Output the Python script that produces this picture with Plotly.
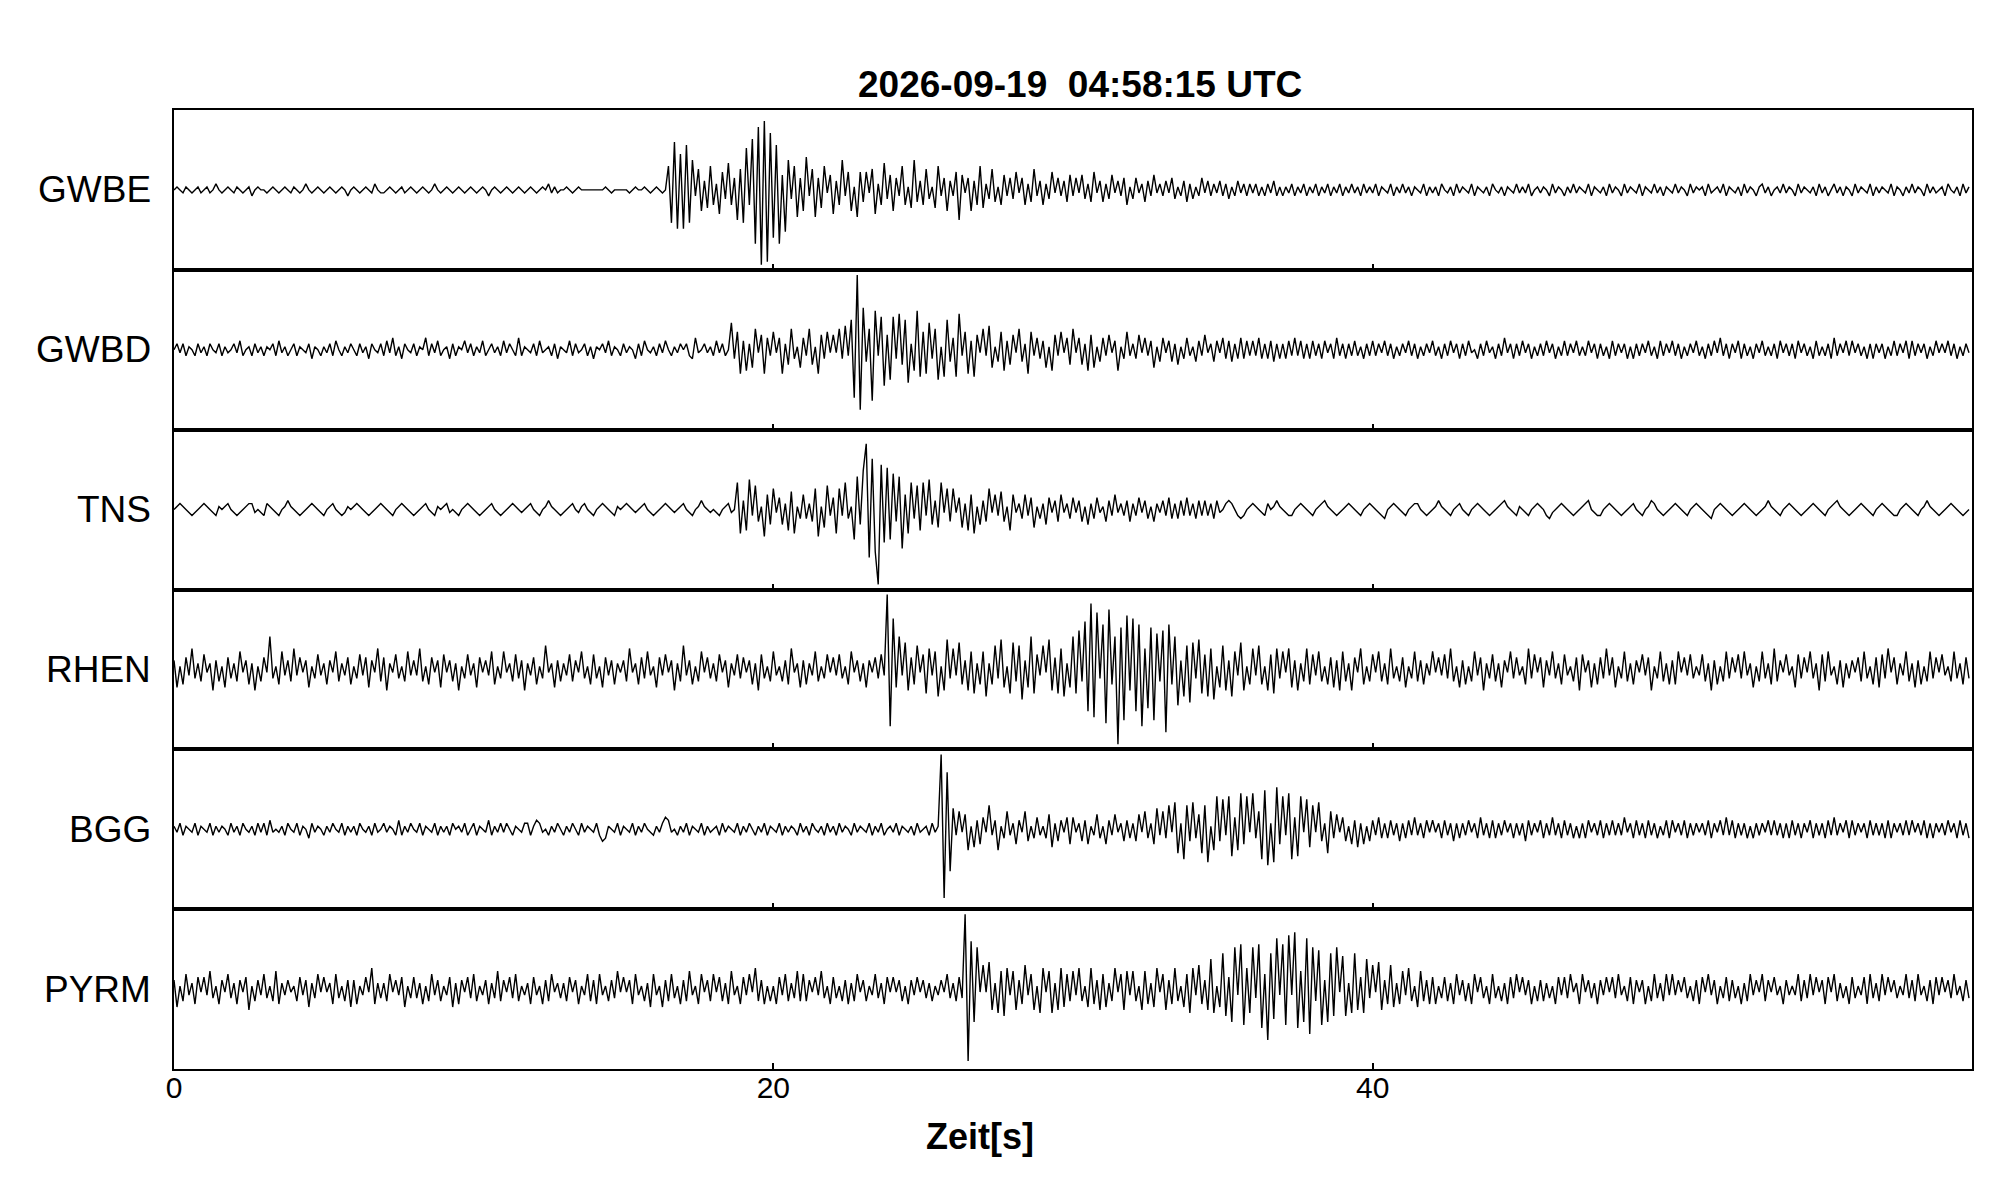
import numpy as np
import plotly.graph_objects as go
from plotly.subplots import make_subplots

# ---------------- data ----------------
stations = ["GWBE", "GWBD", "TNS", "RHEN", "BGG", "PYRM"]
title_text = "2026-09-19  04:58:15 UTC"
x_label = "Zeit[s]"
x_tick_values = [0, 20, 40]
x_tick_labels = ["0", "20", "40"]
x_range = [0, 60]
y_half_range = 26.7  # amplitude units (1 unit ~ 3 px)

# Each word = one second of samples; letter = amplitude (A=+1 .. Z=+26, a=-1 .. z=-26, 0 = 0)
GWBE = """
0A0aA0a0Aa 0Aa0B0a0A0 aA0a0Ab0A0 0a0A0a0A0a A0a0B0a0A0 a0A0a0A0b0 A0a0A0aB0a a0A0a0Aa0A
0a0A0a0B0a 0A0a0A0a0A 0a0A0b0A0a 0A0a0A0a0A 0a0A0BaAa0 0A0a0A0000 0000A0a000 00a0A00A0a
0A0a0HkPmL mOkJbGgCfH eBhFcIeDjG kNeQrUyWxS pOrEnJcHiD gKbGiDfHaE hCeJbFgAiF dFaGhBeIcE
gDbHeAfJdC eGcAfHbDgC bFjEaDgCeH fBcGdAeEbD cFaDeBdGbC eBcFaDbCdE bDaEcBdFaC dBcEaCbDeA
cDaBdCbEaB bCaDcAbCdB cAbDaCbBaC bBcAbCaBbB aBbAbBaCbA bAaBbAaBbA aBbAaBbAaB bAaBaAbBaA
aBbA0aBbAa BaAbA0aBbA aAbB0aAbBa A0aBbA0aAb B0aAbA0aBa AaBb0AaA0b BaA0bAaBaA 0aBbA0aAbB
aA0bBaA0aB bA0aBaAbA0 aBaA0bBaA0 AbBa0AaBbA 0aAbBaA0bA BaAb0AaBaA 0bBaA0aAbB aAb0BaAbA0
bBaA0aBbAa A0aBbA0bAa BaA0bBaAa0 AbB0aAbBaA
"""

GWBD = """
0BaBbA0bBa AbB0aBbAa0 BaCb0AbBaA bA0BbCaAb0 BbA0aBcA0b AaBbC0bAaB 0bBaAcB0aB bCaDbAcB0a
BbA0DbBaCb 0AcBbA0CaB bAaCb0BaAb CaB0bDbA0a BbCa0AbBcA 0aCbBa0BbA cA0BaCbA0b BaA0cBbC0a
AbBaC0bAaB 0BbcDa0BaA bCaBb0IcFh CgBfGaEhDb FaDhBeGcAf DbGeAhEcFa EaGcHbJpYt NdGqMbKlEj
KcLeJkBgMi FhIcGjAiJd DiLbFhCiEa GbHfAdFgCe EaGdBhFbDc CfAgEbFaDe GaDeBgEfAd DbEaCgAcFb
BcEaDbCfAd DaCdBeAcDb AdCbEaBdCa DcCdBcDcCb CbDcBcCdBc BcCbDbCcBc CbBcCaBcDb BcBbCbAcBb
CbBaCbBcAb BaCbBcAbBa CbAcBbCaBc BbCa0cBbCa AcBbDaBcBb CaBcAbBbCa BcAbCbBaCb AbCaBcBbAc
CbBaBcAcBb BaCbAcCbBa CbBcAbBaCb AcBbCaDbBc BaCcBbAcBa CbAbBcCaBb BcCaBbAcCb AbBcDbBaCb
CaBbAcBcBa BcAbCbBaCc CbBaBcAbCa BaCbBcAbBa
"""

TNS = """
0ABA0aba0A BA0abA0AB0 aba0ABBa0a bBA0ab0ACA 0aba0ABA0a b0AB0abaA0 ABA0aba0AB A0ab0ABA0a
ba0AB0abA0 ABa0ab0ABA 0aba0AB0ab a0ABA0a0AB 0ab0ACA0ab a0AB0aAB0a b0ABA0abA0 ABA0a0AB0a
ba0ABA0a0A B0ab0ACA0a 0ab0ABa0Ih CgJbHdAiEe GaDeBgFhAc EcBdGiAfHb DhGbIcAjKe MVpQnyOkNj
LdKmEhIcHg IbJeCfIaGd GaDfBgEhAe CdGaEbFdAg EaBcEbDfAc BeDaCdEaBc DaCdAeBcDa AdCbEaBbCd
BbDaCcAdBa CbDcBcCbDb BcCbCbBcCa 0BCB0bcb0A BA0abB0ACA 0abb0ABA0a b0ABCA0aba 0ABA0ab0AB
A0abc0ABA0 ab0ABB0aba 0ACA0ab0AB 0ab0ABA0ab a0ABCA0abA 0ab0ABA0bc a0ABA0aba0 ABC0abb0AB
A0aba0AB0a b0ACB0aba0 ABA0ab0ABA 0abc0ABA0a ba0ABA0aba 0ACA0ab0AB A0aba0ABA0 ab0ABCA0ab
a0ABA0ab0A BA0abb0ABA 0ab0ACA0ab a0ABA0aba0
"""

RHEN = """
CfAeDbGcBd EaBgCdAfDc BdFaCeBgAd DaKcAeFbCd GbDaCfAcEb BeCaFdBbDe AcEbDfCaGd DgBaEcAdFb
CbGdAeDaCf EaCdBgAcEb BfDaCbFeAc FaBdEcCgBb DeAcHaBfCd BbEdCaFcAe EcAfDbCeBa CdGaBeDcFb
AfDbEaCgBd HbCeAdFaDc BdEaCfBbEc DaCeBgEcAd FbAdCeGaBf CeBbFdAcEa DbEcAeFaCd BfCaDcEbYs
QfKbIgDeHa EhGbFiAgJc GbIeCgFhBe FiBeHcJfAh IdHjCfKhEb HaJgDhGiBf KhMdPnVpSc OrTeKyNqRg
QnOsGmNqLd MuOeKlCiHk IcJhEiGjAf HgCiFbIgAe GbHeAgEhGc FaGfCgBdGe EbFdAeDfCg FdBgDaGeAd
EaFdBeGcAd DfAcFdCeBb FaDbEcGdAf CeAdFbDgBc EdBfCaFcDb AeGcEaDfCb FcBeEbAdDg EaCfBeDcGb
DfAcFdBeCa EbDgAcFdBe CeFaDbEcAb EdBgCeAdFc DaEcFbBfAd FcBeGdCaEb AfEcDaFcBg EdFbAeCfBc
CaDdFcAeDf EcGaDeBbFd BfCeAdFcDa EbAdFcBeDc
"""

BGG = """
AaBbA0aBbA 0aBbAaA0bB aAbB0aAbBa BbCa0aAbB0 aBbA0cBaA0 bAaB0aBbAa AbB0aAbBa0 BaA0bCbAaB
0aBbA0aBbA aAbB0AaBb0 BbA0aCbAaB aB0bA0aBBb ACBa0bAaB0 bAaB0bBaA0 aBbdcA0aBb A0aBbAaB0a
bAaBDCa0bA aBbA0aBbAa 0AbBaA0aBb AaB0bAaBbA 0aBbAaA0bB aAbB0aAbBa AbBaA0bBaA 0aBbAaBb0A
aBbA0aAbBa 0AbBaAYwSn GbFaEgAfCe DaHbCgAcFb BeCaFdAcDb AcEfBdCaDe DaBdCeAbEc AeCbEaBdCc
BdEaFcBeGb FcHaIhBjHd IcEhHkAgKd JbKiDgLeKa LcFjMlBkNe KbLjDiKaJf HaIdBhFcEa DdAeCfBeAd
CbDcBcCbBd BcCbDbBcCa CaBcCbBdBc BbCaBcDbBc CcBbCaBcBb BdCbBaCcBb DbBcCbBcAc BcCaBbCcBb
CbBbDaBcCb BcCbBcAbCc CaBbCcBbBa BbCcBaCbDb CcBbBcAcBb BaCbCbBcBc CbBcBaCcBb BcCbDbBaCc
CbBaBcCbBb BcCcBaBbCb CaBbCcBcBa BbCaBcCbBc
"""

PYRM = """
CfAdEbBeDa DbFcAeCaEc BeCaDgAdCb EcAdFeBbCa AdDbCfBcEa DaBeEcAdCf CeAbDaGeBc BdEaCbDfAc
DcBeAdEbCd AbDfBeCaDc EdAbCeBcFd CaDcEdAbBe DbAeCdEaBc BdDaCeAbEd CeEbAdCcFa DaCeEbAdBf
EbAfCdEcAe CdFbAeEaCd EaDdBeFbAe DbEaGdCeAd AeDbEdBcFd EdCaDbFcAe DcAdCeBdEa CdAbEcBeDa
DaCdAeCbDa CcBdAbCaEc BdDcYxPkNa HaIgBhFiGb FgCeHbEgAh GaFhBgGfEd FbGdAfGeCg EfBdGaEgFb
FdAgFeBfGa EgCeGdAfEh GbHeCgJhAf LiDkNbOlGh NcOmEqLjQb OlRbSmFkQo NdMlCkLiNa KiBhLgDhJc
HaIgCeHfBe FbGdAfFdCe DeAcDdBeEb CdBeEaDcAe EcAdBeDcEa DbCeAdCdBc AeDbDcEaBe EaCcBeCbDa
DcEbAdDeCa CeAdEcBdEb EbCaDcAdCe DaEbCeAcDd CcAeBdEbCa EdCaDbAeCb AbEdCcEbDa CeDaEdBcAe
DcAbDeEcBd EbDaCcAbEc CdEbAdCeDb DaCcEbAdCc
"""

traces = [GWBE, GWBD, TNS, RHEN, BGG, PYRM]


def decode(text):
    times, vals = [], []
    for sec, word in enumerate(text.split()):
        n = len(word)
        for k, c in enumerate(word):
            times.append(sec + k / n)
            if c == "0":
                v = 0
            elif c.isupper():
                v = ord(c) - 64
            else:
                v = -(ord(c) - 96)
            vals.append(v)
    return np.array(times), np.array(vals, dtype=float)


# ---------------- figure ----------------
# the page body adds an 8 px margin, so the figure is placed to compensate
PAGE = 8
W, H = 2005, 1202
plot_left, plot_right, plot_top, plot_bottom = 174, 1972, 110, 1069
L = plot_left - PAGE
T = plot_top - PAGE
R = PAGE + W - plot_right
B = PAGE + H - plot_bottom
FONT = "Liberation Sans, Arial, Helvetica, sans-serif"

fig = make_subplots(rows=len(stations), cols=1, shared_xaxes=True,
                    vertical_spacing=0)

for i, (name, data) in enumerate(zip(stations, traces), start=1):
    t, v = decode(data)
    fig.add_trace(go.Scatter(x=t, y=v, mode="lines", name=name,
                             line=dict(color="black", width=1.4),
                             showlegend=False, hoverinfo="skip"),
                  row=i, col=1)
    fig.update_yaxes(range=[-y_half_range, y_half_range], showticklabels=False,
                     ticks="", showgrid=False, zeroline=False,
                     showline=True, linecolor="black", linewidth=2, mirror=True,
                     fixedrange=True, row=i, col=1)
    fig.update_xaxes(range=x_range, tickvals=x_tick_values, ticktext=x_tick_labels,
                     ticks="inside", ticklen=6, tickwidth=2, tickcolor="black",
                     showgrid=False, zeroline=False,
                     showline=True, linecolor="black", linewidth=2, mirror=True,
                     showticklabels=(i == len(stations)),
                     ticklabelstandoff=-9,
                     tickfont=dict(family=FONT, size=30, color="black"),
                     row=i, col=1)
    yref = "y domain" if i == 1 else f"y{i} domain"
    fig.add_annotation(text=name, xref="paper", x=0, xshift=-21, xanchor="right",
                       yref=yref, y=0.5, yanchor="middle", showarrow=False,
                       font=dict(family=FONT, size=37, color="black"))

fig.add_annotation(text=f"<b>{title_text}</b>", xref="paper", x=0.504,
                   xanchor="center", yref="paper", y=1.0, yshift=26,
                   yanchor="middle", showarrow=False,
                   font=dict(family=FONT, size=37, color="black"))
fig.add_annotation(text=f"<b>{x_label}</b>", xref="paper", x=0.448,
                   xanchor="center", yref="paper", y=0, yshift=-67,
                   yanchor="middle", showarrow=False,
                   font=dict(family=FONT, size=36, color="black"))

fig.update_layout(width=W, height=H, autosize=False,
                  margin=dict(l=L, r=R, t=T, b=B),
                  paper_bgcolor="white", plot_bgcolor="white",
                  font=dict(family=FONT, color="black"))

fig.write_html("out.html")
